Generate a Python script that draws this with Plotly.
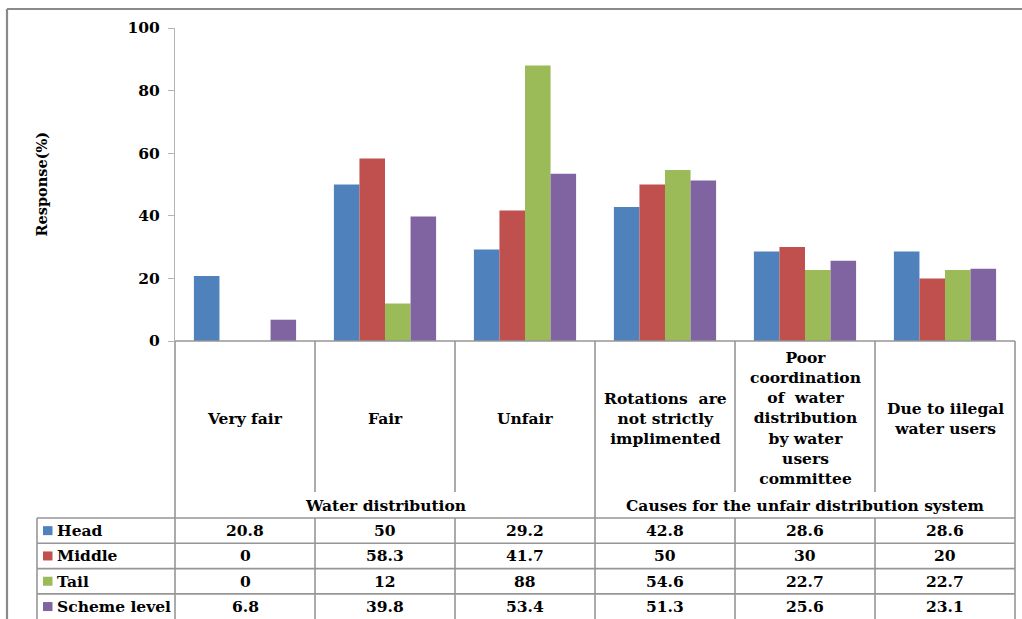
import plotly.graph_objects as go

# ---- data -------------------------------------------------------------
categories = ["Very fair", "Fair", "Unfair",
              "Rotations are not strictly implimented",
              "Poor coordination of water distribution by water users committee",
              "Due to iilegal water users"]
category_labels = ["Very fair", "Fair", "Unfair",
                   "Rotations  are<br>not strictly<br>implimented",
                   "Poor<br>coordination<br>of  water<br>distribution<br>by water<br>users<br>committee",
                   "Due to iilegal<br>water users"]
group_labels = ["Water distribution", "Causes for the unfair distribution system"]

series_names = ["Head", "Middle", "Tail", "Scheme level"]
head = [20.8, 50, 29.2, 42.8, 28.6, 28.6]
middle = [0, 58.3, 41.7, 50, 30, 20]
tail = [0, 12, 88, 54.6, 22.7, 22.7]
scheme_level = [6.8, 39.8, 53.4, 51.3, 25.6, 23.1]
y_ticks = [0, 20, 40, 60, 80, 100]

colors = ["#4F81BD", "#C0504D", "#9BBB59", "#8064A2"]
series_values = [head, middle, tail, scheme_level]

# ---- geometry (pixels) ------------------------------------------------
W, H = 1022, 619
PL, PR, PT, PB = 175, 1015, 28, 341          # plot area edges
TABLE_LEFT = 37
LABEL_BOTTOM = 492                            # sub-category separators end
TABLE_TOP = 518
ROW_H = 25.3
FONT = "DejaVu Serif"
FS = 15.5
LINE = "#969696"


def px(x):
    return (x - PL) / (PR - PL)


def py(y):
    return (PB - y) / (PB - PT)


n_cat = len(categories)
col_w = (PR - PL) / n_cat

fig = go.Figure()
for name, vals, c in zip(series_names, series_values, colors):
    fig.add_trace(go.Bar(x=categories, y=vals, name=name,
                         marker=dict(color=c, line=dict(width=0))))

shapes = []
annotations = []


def vline(x, y0, y1, color=LINE, w=1.6):
    shapes.append(dict(type="line", xref="paper", yref="paper",
                       x0=px(x), x1=px(x), y0=py(y0), y1=py(y1),
                       line=dict(color=color, width=w)))


def hline(y, x0, x1, color=LINE, w=1.6):
    shapes.append(dict(type="line", xref="paper", yref="paper",
                       x0=px(x0), x1=px(x1), y0=py(y), y1=py(y),
                       line=dict(color=color, width=w)))


def text(x, y, s, size=FS, xanchor="center", angle=0):
    annotations.append(dict(xref="paper", yref="paper", x=px(x), y=py(y),
                            text=s, showarrow=False, xanchor=xanchor,
                            yanchor="middle", align="center", textangle=angle,
                            font=dict(family=FONT, size=size, color="black",
                                      weight="bold")))


# outer chart frame (top and left edges)
hline(9, 7, W + 10, color="#8a8a8a", w=2.2)
vline(7, 9, H + 10, color="#8a8a8a", w=2.2)

# category axis line and label-area separators
hline(PB, PL, PR)
vline(PL, PB, H + 5)
vline(PR, PB, H + 5)
vline(PL + 3 * col_w, PB, H + 5)
for i in (1, 2, 4, 5):
    x = PL + i * col_w
    vline(x, PB, LABEL_BOTTOM)
    vline(x, TABLE_TOP, H + 5)
vline(TABLE_LEFT, TABLE_TOP, H + 5)

# table row lines
for r in range(4):
    hline(TABLE_TOP + r * ROW_H, TABLE_LEFT, PR)

# category labels
for i, lab in enumerate(category_labels):
    text(PL + (i + 0.5) * col_w, 418, lab)

# group labels
text(PL + 1.5 * col_w, 505, group_labels[0])
text(PL + 4.5 * col_w, 505, group_labels[1])

# data table
for r, (name, vals, c) in enumerate(zip(series_names, series_values, colors)):
    yc = TABLE_TOP + (r + 0.5) * ROW_H
    shapes.append(dict(type="rect", xref="paper", yref="paper",
                       x0=px(43), x1=px(52.5), y0=py(yc - 4.5), y1=py(yc + 4.5),
                       fillcolor=c, line=dict(width=0)))
    text(55, yc, name, xanchor="left")
    for i, v in enumerate(vals):
        text(PL + (i + 0.5) * col_w, yc, f"{v:g}")

# y-axis title
text(41, (PT + PB) / 2, "Response(%)", size=14.5, angle=-90)

fig.update_layout(
    width=W, height=H,
    margin=dict(l=PL, r=W - PR, t=PT, b=H - PB),
    paper_bgcolor="white", plot_bgcolor="white",
    barmode="group", bargap=0.27, bargroupgap=0,
    showlegend=False,
    shapes=shapes, annotations=annotations,
    xaxis=dict(type="category", range=[-0.5, n_cat - 0.5],
               showticklabels=False, showline=False, showgrid=False,
               zeroline=False, ticks=""),
    yaxis=dict(range=[0, 100], tickvals=y_ticks, showgrid=False,
               zeroline=False, showline=True, linecolor="#b4b4b4",
               linewidth=1.3, ticks="outside", ticklen=6,
               tickcolor="#b4b4b4", tickwidth=1.3, ticklabelstandoff=5,
               tickfont=dict(family=FONT, size=FS, color="black",
                             weight="bold")),
)

fig.write_html("out.html")
